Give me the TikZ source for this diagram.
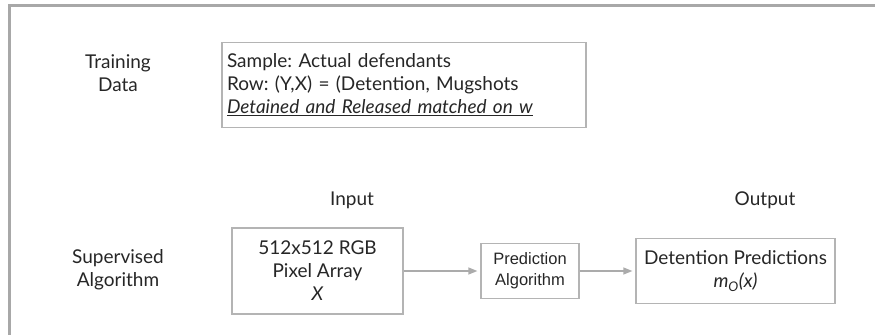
\documentclass[tikz,border=0pt]{standalone}
\usepackage{fontspec}
\setmainfont{Lato}
\newfontfamily\helvfont{Liberation Sans}
\usetikzlibrary{arrows.meta}
\definecolor{FrameGray}{HTML}{A8A8A8}
\definecolor{BoxGray}{HTML}{B4B4B4}
\definecolor{InkGray}{HTML}{262626}
\definecolor{ArrowGray}{HTML}{ABABAB}
\newcommand{\mO}{\textit{m\textsubscript{O}(x)}}
\frenchspacing

\begin{document}
\begin{tikzpicture}[x=1pt,y=-1pt,
      every node/.style={font=\fontsize{19}{23}\selectfont,align=center,text=InkGray},
      box/.style={draw=BoxGray,line width=1.3pt,inner sep=0pt},
      algobox/.style={box,font=\helvfont\fontsize{16.5}{21}\selectfont},
      arrow/.style={-{Triangle[length=9pt,width=7pt]},line width=1.3pt,draw=ArrowGray,shorten >=3pt}]
      \useasboundingbox (0,0) rectangle (875,335);
      % outer frame, top and left sides only
      \draw[FrameGray,line width=3pt] (875,5) -- (9,5) -- (9,335);
      % row labels
      \node (trainlbl) at (118,73) {Training\\Data};
      \node (suplbl) at (118,270) {Supervised\\Algorithm};
      \node (inlbl) at (352,200) {Input};
      \node (outlbl) at (765,200) {Output};
      % training data box
      \node[box,minimum width=364pt,minimum height=85pt,text width=354pt,align=left] (train) at (404,85)
        {Sample: Actual defendants\\Row: (Y,X) = (Detention, Mugshots\\\underline{\itshape Detained and Released matched on w}};
      % pipeline
      \node[box,minimum width=171pt,minimum height=86pt] (pixels) at (317.5,271) {512x512 RGB\\Pixel Array\\\textit{X}};
      \node[algobox,minimum width=98pt,minimum height=55pt] (algo) at (530,271) {Prediction\\Algorithm};
      \node[box,minimum width=199pt,minimum height=65pt] (preds) at (735.5,271) {Detention Predictions\\\mO};
      \draw[arrow] (pixels)--(algo);
      \draw[arrow] (algo)--(preds);
    \end{tikzpicture}
\end{document}
